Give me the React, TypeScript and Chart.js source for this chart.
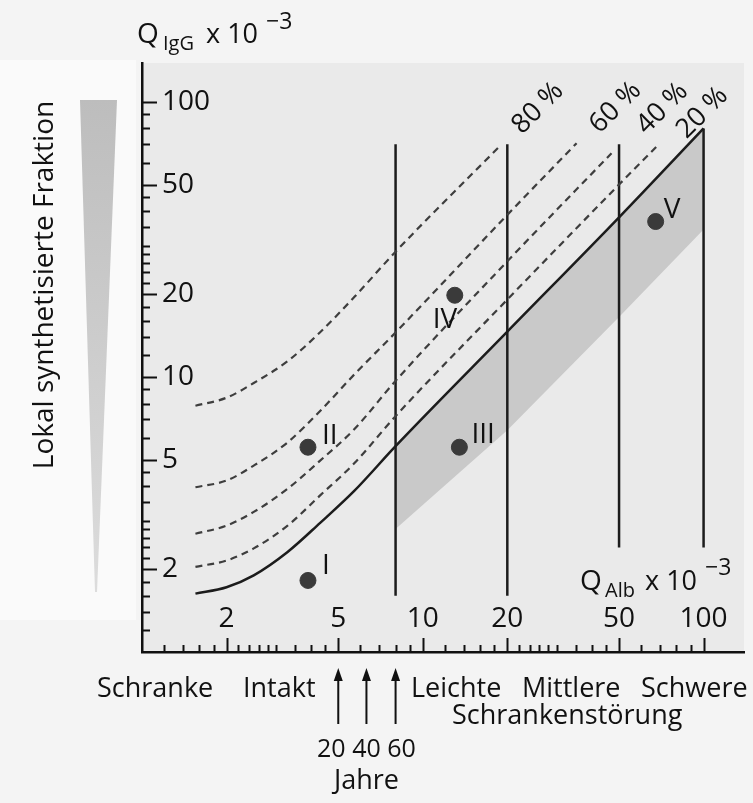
import React, { useEffect, useRef } from "react";
import { Chart, registerables } from "chart.js";

Chart.register(...registerables);

const FONT = '"Open Sans", "Noto Sans", sans-serif';
const W = "500";

// Axis ticks (Q x 10^-3)
const xTickValues = [2, 5, 10, 20, 50, 100];
const xTickLabels = ["2", "5", "10", "20", "50", "100"];
const yTickValues = [2, 5, 10, 20, 50, 100];
const yTickLabels = ["2", "5", "10", "20", "50", "100"];
const minorTickValues = [1.2, 1.4, 1.6, 1.8, 2.2, 2.4, 2.6, 2.8, 3, 3.5, 4, 4.5, 6, 7, 8, 9, 12, 14, 16, 18, 22, 24, 26, 28, 30, 35, 40, 45, 60, 70, 80, 90];

// Q_lim (solid line, 0 % local synthesis)
const limitQAlb = [1.55, 2.0, 2.5, 3.3, 4.3, 5.7, 8.0, 20, 50, 100];
const limitQIgG = [1.63, 1.72, 1.9, 2.31, 2.94, 3.85, 5.6, 14.6, 38, 80];

// Dashed lines of intrathecal fraction
const curveQAlb = [1.55, 2.0, 2.5, 3.3, 4.3, 5.7, 8.0];
const frac20QIgG = [2.04, 2.15, 2.38, 2.88, 3.7, 4.85, 7.2];
const frac20TailQAlb = [20, 50, 68];
const frac20TailQIgG = [19.1, 50, 68.7];
const frac40QIgG = [2.69, 2.88, 3.23, 3.92, 4.95, 6.45, 9.67];
const frac40TailQAlb = [20, 47];
const frac40TailQIgG = [26.3, 65];
const frac60QIgG = [3.97, 4.2, 4.76, 5.78, 7.5, 10.2, 14.5];
const frac60TailQAlb = [20, 35.3];
const frac60TailQIgG = [38.8, 70.7];
const frac80QIgG = [7.85, 8.4, 9.5, 11.4, 14.5, 19.5, 28.5];
const frac80TailQAlb = [19];
const frac80TailQIgG = [69.7];
const fractionLabels = ["20 %", "40 %", "60 %", "80 %"];

// Grey reference band below Q_lim
const bandQAlb = [8.0, 20, 50, 100];
const bandUpperQIgG = [5.6, 14.6, 38, 80];
const bandLowerQIgG = [2.8, 6.4, 16.5, 34.3];

// Vertical barrier-dysfunction limits
const barrierQAlb = [8.0, 20, 50, 100];
const barrierTopQIgG = [70, 70, 70, 80];
const barrierBottomQIgG = [1.6, 1.6, 2.4, 2.4];

// Example patients
const pointQAlb = [3.9, 3.9, 13.5, 13.0, 67.5];
const pointQIgG = [1.82, 5.55, 5.55, 19.8, 36.7];
const pointNames = ["I", "II", "III", "IV", "V"];

// Age arrows
const ageQAlb = [5.0, 6.3, 8.0];
const ageLabels = ["20", "40", "60"];

const zip = (xs: number[], ys: number[]) => xs.map((x, i) => ({ x, y: ys[i] }));

export default function App() {
  const ref = useRef<HTMLCanvasElement | null>(null);

  useEffect(() => {
    const canvas = ref.current;
    if (!canvas) return;

    const lineBase = {
      showLine: true,
      pointRadius: 0,
      pointHoverRadius: 0,
      fill: false,
      cubicInterpolationMode: "monotone" as const,
    };
    const dashed = {
      ...lineBase,
      borderColor: "#3e3e3e",
      borderWidth: 2.2,
      borderDash: [7, 5],
    };

    const datasets: any[] = [
      {
        data: zip(pointQAlb, pointQIgG),
        pointRadius: 8,
        pointBackgroundColor: "#3a3a3a",
        pointBorderColor: "#3a3a3a",
        showLine: false,
      },
      {
        ...lineBase,
        data: zip(limitQAlb, limitQIgG),
        borderColor: "#1c1c1c",
        borderWidth: 2.5,
      },
      { ...dashed, data: zip([...curveQAlb, ...frac20TailQAlb], [...frac20QIgG, ...frac20TailQIgG]) },
      { ...dashed, data: zip([...curveQAlb, ...frac40TailQAlb], [...frac40QIgG, ...frac40TailQIgG]) },
      { ...dashed, data: zip([...curveQAlb, ...frac60TailQAlb], [...frac60QIgG, ...frac60TailQIgG]) },
      { ...dashed, data: zip([...curveQAlb, ...frac80TailQAlb], [...frac80QIgG, ...frac80TailQIgG]) },
    ];
    barrierQAlb.forEach((qa, i) => {
      datasets.push({
        ...lineBase,
        cubicInterpolationMode: "default",
        tension: 0,
        data: [
          { x: qa, y: barrierBottomQIgG[i] },
          { x: qa, y: barrierTopQIgG[i] },
        ],
        borderColor: "#1c1c1c",
        borderWidth: 2.5,
      });
    });
    datasets.push({
      ...lineBase,
      cubicInterpolationMode: "default",
      tension: 0,
      data: zip(bandQAlb, bandUpperQIgG),
      borderWidth: 0,
      borderColor: "rgba(0,0,0,0)",
    });
    datasets.push({
      ...lineBase,
      cubicInterpolationMode: "default",
      tension: 0,
      data: zip(bandQAlb, bandLowerQIgG),
      borderWidth: 0,
      borderColor: "rgba(0,0,0,0)",
      backgroundColor: "#c9c9c9",
      fill: "-1",
    });

    const fracLabelOffsets = [
      [30, -7],
      [35, -18],
      [23, -9],
      [21, -10],
    ];

    const f = (size: number) => `${W} ${size}px ${FONT}`;

    const decor = {
      id: "decor",
      beforeDraw(chart: any) {
        const { ctx, chartArea } = chart;
        ctx.save();
        ctx.fillStyle = "#f4f4f4";
        ctx.fillRect(0, 0, chart.width, chart.height);
        ctx.fillStyle = "#fafafa";
        ctx.fillRect(0, 60, 136, 560);
        ctx.fillStyle = "#eaeaea";
        ctx.fillRect(chartArea.left, chartArea.top, chartArea.right - chartArea.left, chartArea.bottom - chartArea.top);
        ctx.restore();
      },
      afterDraw(chart: any) {
        const { ctx, chartArea } = chart;
        const xs = chart.scales.x;
        const ys = chart.scales.y;
        ctx.save();
        ctx.fillStyle = "#111";
        ctx.strokeStyle = "#111";

        // inward tick marks
        ctx.lineWidth = 2;
        const bottom = chartArea.bottom;
        const left = chartArea.left;
        minorTickValues.forEach((v) => {
          const px = Math.round(xs.getPixelForValue(v)) + 0.5;
          ctx.beginPath();
          ctx.moveTo(px, bottom);
          ctx.lineTo(px, bottom - 7);
          ctx.stroke();
          const py = Math.round(ys.getPixelForValue(v)) + 0.5;
          ctx.beginPath();
          ctx.moveTo(left, py);
          ctx.lineTo(left + 8, py);
          ctx.stroke();
        });
        xTickValues.forEach((v) => {
          const px = Math.round(xs.getPixelForValue(v)) + 0.5;
          ctx.beginPath();
          ctx.moveTo(px, bottom);
          ctx.lineTo(px, bottom - 14);
          ctx.stroke();
        });
        yTickValues.forEach((v) => {
          const py = Math.round(ys.getPixelForValue(v)) + 0.5;
          ctx.beginPath();
          ctx.moveTo(left, py);
          ctx.lineTo(left + 15, py);
          ctx.stroke();
        });

        // wedge on the left
        const grad = ctx.createLinearGradient(0, 100, 0, 590);
        grad.addColorStop(0, "#bdbdbd");
        grad.addColorStop(1, "#dcdcdc");
        ctx.fillStyle = grad;
        ctx.beginPath();
        ctx.moveTo(80, 100);
        ctx.lineTo(117, 100);
        ctx.lineTo(97, 592);
        ctx.lineTo(95, 592);
        ctx.closePath();
        ctx.fill();

        ctx.fillStyle = "#111";
        // vertical left title
        ctx.save();
        ctx.translate(53, 285);
        ctx.rotate(-Math.PI / 2);
        ctx.font = f(28);
        ctx.textAlign = "center";
        ctx.textBaseline = "alphabetic";
        ctx.fillText("Lokal synthetisierte Fraktion", 0, 0);
        ctx.restore();

        // y title  Q IgG x 10^-3
        ctx.textAlign = "left";
        ctx.textBaseline = "alphabetic";
        ctx.font = f(28);
        ctx.fillText("Q", 137, 43);
        ctx.font = f(20);
        ctx.fillText("IgG", 163, 50);
        ctx.font = f(27);
        ctx.fillText("x 10", 206, 43);
        ctx.font = f(23);
        ctx.fillText("\u22123", 266, 29);

        // x title  Q Alb x 10^-3
        ctx.font = f(28);
        ctx.fillText("Q", 580, 590);
        ctx.font = f(20);
        ctx.fillText("Alb", 605, 597);
        ctx.font = f(27);
        ctx.fillText("x 10", 645, 590);
        ctx.font = f(23);
        ctx.fillText("\u22123", 705, 575);

        // fraction labels, rotated
        ctx.font = f(27);
        [2, 3, 4, 5].forEach((di, k) => {
          const meta = chart.getDatasetMeta(di);
          const last = meta.data[meta.data.length - 1];
          const [ox, oy] = fracLabelOffsets[k];
          ctx.save();
          ctx.translate(last.x + ox, last.y + oy);
          ctx.rotate(-Math.PI / 4);
          ctx.fillText(fractionLabels[k], 0, 0);
          ctx.restore();
        });

        // point names
        const pmeta = chart.getDatasetMeta(0);
        const nameOffsets = [
          [14, -6],
          [14, -3],
          [12, -4],
          [-22, 33],
          [8, -4],
        ];
        ctx.font = f(28);
        pointNames.forEach((n, i) => {
          const el = pmeta.data[i];
          ctx.fillText(n, el.x + nameOffsets[i][0], el.y + nameOffsets[i][1]);
        });

        // bottom texts
        ctx.font = f(27);
        ctx.fillText("Schranke", 97, 697);
        ctx.fillText("Intakt", 243, 697);
        ctx.fillText("Leichte", 411, 697);
        ctx.fillText("Mittlere", 522, 697);
        ctx.fillText("Schwere", 641, 697);
        ctx.fillText("Schrankenst\u00f6rung", 452, 724);

        // age arrows
        ctx.lineWidth = 2;
        ctx.textAlign = "center";
        ageQAlb.forEach((qa) => {
          const px = xs.getPixelForValue(qa);
          ctx.beginPath();
          ctx.moveTo(px, 724);
          ctx.lineTo(px, 676);
          ctx.stroke();
          ctx.beginPath();
          ctx.moveTo(px, 668);
          ctx.lineTo(px - 4.5, 681);
          ctx.lineTo(px + 4.5, 681);
          ctx.closePath();
          ctx.fill();
        });
        ctx.font = f(25);
        const mid = xs.getPixelForValue(ageQAlb[1]);
        ctx.fillText(ageLabels.join(" "), mid, 757);
        ctx.font = f(27);
        ctx.fillText("Jahre", mid, 789);
        ctx.restore();
      },
    };

    const chart = new Chart(canvas, {
      type: "scatter",
      data: { datasets },
      options: {
        responsive: false,
        maintainAspectRatio: false,
        animation: false,
        events: [],
        layout: { padding: { top: 63, right: 0, left: 0, bottom: 0 } },
        plugins: { legend: { display: false }, tooltip: { enabled: false } },
        elements: { line: { borderCapStyle: "butt" } },
        scales: {
          x: {
            type: "logarithmic",
            position: "bottom",
            min: 1,
            max: 139.3,
            grid: { display: false, drawTicks: false },
            border: { display: true, color: "#111", width: 2.5 },
            ticks: {
              autoSkip: false,
              maxRotation: 0,
              minRotation: 0,
              mirror: true,
              padding: 16,
              color: "#111",
              font: { family: FONT, size: 28, weight: W },
              callback: (_v: any, i: number) => xTickLabels[i],
            },
            afterBuildTicks: (s: any) => {
              s.ticks = xTickValues.map((v) => ({ value: v }));
            },
            afterFit: (s: any) => {
              s.height = 151;
            },
          },
          y: {
            type: "logarithmic",
            position: "left",
            min: 1,
            max: 138.3,
            grid: { display: false, drawTicks: false },
            border: { display: true, color: "#111", width: 2.5 },
            ticks: {
              mirror: true,
              padding: 20,
              color: "#111",
              font: { family: FONT, size: 28, weight: W },
              callback: (_v: any, i: number) => yTickLabels[i],
            },
            afterBuildTicks: (s: any) => {
              s.ticks = yTickValues.map((v) => ({ value: v }));
            },
            afterFit: (s: any) => {
              s.width = 142;
            },
          },
        },
      } as any,
      plugins: [decor],
    });

    return () => chart.destroy();
  }, []);

  return (
    <div style={{ position: "fixed", left: 0, top: 0, width: 753, height: 803 }}>
      <canvas ref={ref} width={753} height={803} style={{ display: "block", width: 753, height: 803 }} />
    </div>
  );
}
